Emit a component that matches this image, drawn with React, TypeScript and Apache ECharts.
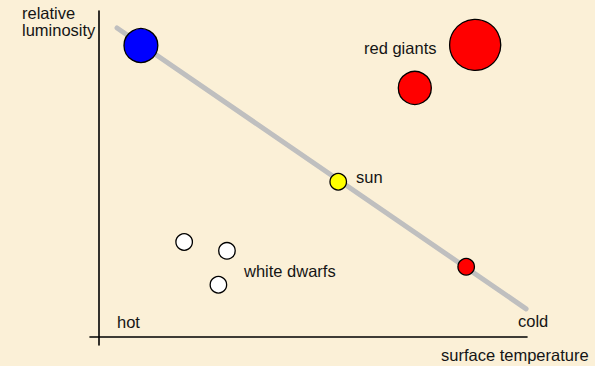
import React, { useEffect, useRef } from "react";
import * as echarts from "echarts";

// Abstract Hertzsprung–Russell diagram (temperature increases to the left, i.e. "hot" at x = 0)
// [temperature scale position, luminosity, relative radius]
const hotStars: number[][] = [[0.93, 8.94, 2.05]];
const redGiants: number[][] = [
  [8.35, 8.96, 3.1],
  [7.01, 7.64, 2.0],
];
const sunStar: number[][] = [[5.31, 4.76, 1]];
const redDwarfs: number[][] = [[8.15, 2.15, 1]];
const whiteDwarfs: number[][] = [
  [1.89, 2.91, 1],
  [2.84, 2.64, 1],
  [2.65, 1.6, 1],
];
const mainSequence: number[][] = [
  [0.4, 9.48],
  [9.48, 0.86],
];

const FONT = '16.5px "Liberation Sans", Arial, sans-serif';
const TXT = "#151515";

export default function App() {
  const ref = useRef<HTMLDivElement>(null);
  useEffect(() => {
    if (!ref.current) return;
    const chart = echarts.init(ref.current, null, { renderer: "svg" });
    const sz = (v: number[]) => v[2] * 16.5;
    const star = (name: string, data: number[][], color: string) => ({
      type: "scatter",
      name,
      data,
      symbol: "circle",
      symbolSize: sz,
      z: 3,
      itemStyle: { color, borderColor: "#000", borderWidth: 1.3, opacity: 1 },
    });
    const text = (t: string, x: number, y: number) => ({
      type: "text",
      x,
      y,
      z: 10,
      style: { text: t, font: FONT, fill: TXT, textAlign: "left", textVerticalAlign: "middle" },
    });
    chart.setOption({
      animation: false,
      backgroundColor: "#fbf0d7",
      grid: { left: 90, right: 68, top: 11, bottom: 21, containLabel: false },
      xAxis: {
        type: "value",
        min: -0.2,
        max: 9.5,
        axisLine: { onZero: true, lineStyle: { color: "#000", width: 1.6 } },
        axisTick: { show: false },
        axisLabel: { show: false },
        splitLine: { show: false },
      },
      yAxis: {
        type: "value",
        min: -0.25,
        max: 10,
        axisLine: { show: true, onZero: true, lineStyle: { color: "#000", width: 1.6 } },
        axisTick: { show: false },
        axisLabel: { show: false },
        splitLine: { show: false },
      },
      series: [
        {
          type: "line",
          data: mainSequence,
          symbol: "none",
          z: 1,
          lineStyle: { color: "#bfbfbf", width: 5, cap: "round" },
        },
        star("hot stars", hotStars, "#0000ff"),
        star("red giants", redGiants, "#ff0000"),
        star("sun", sunStar, "#ffff00"),
        star("red dwarfs", redDwarfs, "#ff0000"),
        star("white dwarfs", whiteDwarfs, "#ffffff"),
      ],
      graphic: [
        text("relative", 22, 13),
        text("luminosity", 22, 30),
        text("red giants", 364, 48),
        text("sun", 356, 177),
        text("white dwarfs", 244, 271),
        text("hot", 117, 322),
        text("cold", 518, 321),
        text("surface temperature", 441, 355),
      ],
    });
    return () => chart.dispose();
  }, []);
  return (
    <div
      ref={ref}
      style={{ position: "absolute", left: 0, top: 0, width: 595, height: 366 }}
    />
  );
}
